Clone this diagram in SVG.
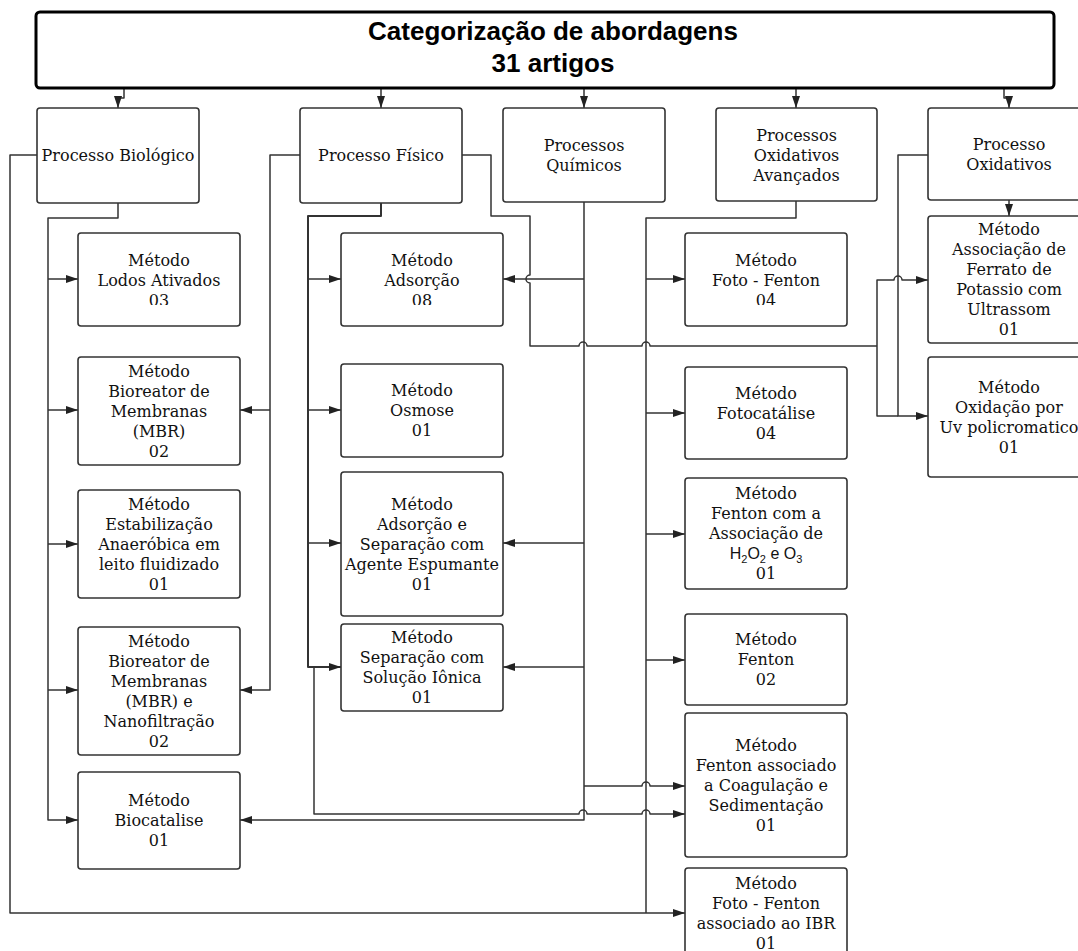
<svg xmlns="http://www.w3.org/2000/svg" width="1078" height="951" viewBox="0 0 1078 951">
<defs>
<marker id="arr" markerWidth="12" markerHeight="8" refX="12" refY="4" orient="auto" markerUnits="userSpaceOnUse"><path d="M0,0 L12,4 L0,8 z" fill="#222"/></marker>
<clipPath id="cut"><rect x="0" y="0" width="1078" height="305"/></clipPath>
</defs>
<style>
.box{fill:#fff;stroke:#333;stroke-width:1.6}
.t{font-family:"DejaVu Serif",serif;font-size:16px;fill:#111;text-anchor:middle}
.s{font-family:"Liberation Sans",Arial,sans-serif;font-size:16px;fill:#111}
.c{fill:none;stroke:#333;stroke-width:1.5;stroke-linejoin:round}
.a{marker-end:url(#arr)}
.title{font-family:"Liberation Sans",Arial,sans-serif;font-size:26px;font-weight:bold;fill:#000;text-anchor:middle}
</style>
<rect width="1078" height="951" fill="#fff"/>

<g id="connectors">
<path class="c a" d="M124,88 V98 H118 V108"/>
<path class="c a" d="M381,88 V108"/>
<path class="c a" d="M584,88 V108"/>
<path class="c a" d="M796,88 V108"/>
<path class="c a" d="M1004,88 V98 H1009 V108"/>
<!-- Biologico -->
<path class="c a" d="M118,203 V218 H48 V820 H78"/>
<path class="c a" d="M48,279 H78"/>
<path class="c a" d="M48,410 H78"/>
<path class="c a" d="M48,544 H78"/>
<path class="c a" d="M48,690 H78"/>
<path class="c a" d="M37,155 H10 V913 H685"/>
<!-- Fisico -->
<path class="c a" d="M300,155 H270 V690 H240"/>
<path class="c a" d="M270,410 H240"/>
<path class="c a" d="M381,203 V216 H308 V667 H341" style="stroke-width:2"/>
<path class="c a" d="M308,279 H341"/>
<path class="c a" d="M308,410 H341"/>
<path class="c a" d="M308,543 H341"/>
<path class="c a" d="M314,667 V814 H579 A4,4 0 0 1 587,814 H642 A4,4 0 0 1 650,814 H685"/>
<path class="c" d="M462,155 H491 V216 H530 V275 A4,4 0 0 0 530,283 V346 H579 A4,4 0 0 1 587,346 H642 A4,4 0 0 1 650,346 H877"/>
<path class="c a" d="M877,346 V280 H894 A4,4 0 0 1 902,280 H928"/>
<path class="c" d="M877,346 V416 H898"/>
<!-- Quimicos -->
<path class="c a" d="M584,202 V820 H240"/>
<path class="c a" d="M584,279 H503"/>
<path class="c a" d="M584,543 H503"/>
<path class="c a" d="M584,667 H503"/>
<path class="c a" d="M584,786 H642 A4,4 0 0 1 650,786 H685"/>
<!-- AOP -->
<path class="c" d="M796,201 V218 H646 V913"/>
<path class="c a" d="M646,279 H685"/>
<path class="c a" d="M646,413 H685"/>
<path class="c a" d="M646,534 H685"/>
<path class="c a" d="M646,660 H685"/>
<!-- Oxidativos -->
<path class="c a" d="M1009,200 V216"/>
<path class="c a" d="M928,155 H898 V416 H928"/>
</g>

<g id="title">
<rect x="36" y="12" width="1018" height="76" rx="4" fill="#fff" stroke="#000" stroke-width="3"/>
<text class="title" x="553" y="40">Categorização de abordagens</text>
<text class="title" x="553" y="72">31 artigos</text>
</g>

<g id="p-bio"><rect class="box" x="37" y="108" width="162" height="95" rx="3"/><text class="t" x="118" y="161">Processo Biológico</text></g>
<g id="p-fis"><rect class="box" x="300" y="108" width="162" height="95" rx="3"/><text class="t" x="381" y="161">Processo Físico</text></g>
<g id="p-qui"><rect class="box" x="503" y="108" width="162" height="94" rx="3"/><text class="t" x="584" y="151">Processos<tspan x="584" dy="20">Químicos</tspan></text></g>
<g id="p-aop"><rect class="box" x="716" y="108" width="161" height="93" rx="3"/><text class="t" x="796.5" y="141">Processos<tspan x="796.5" dy="20">Oxidativos</tspan><tspan x="796.5" dy="20">Avançados</tspan></text></g>
<g id="p-oxi"><rect class="box" x="928" y="108" width="162" height="92" rx="3"/><text class="t" x="1009" y="150">Processo<tspan x="1009" dy="20">Oxidativos</tspan></text></g>

<g id="m-lodos"><rect class="box" x="78" y="233" width="162" height="93" rx="3"/><text class="t" x="159" y="266">Método<tspan x="159" dy="20">Lodos Ativados</tspan></text><text class="t" x="159" y="306" clip-path="url(#cut)">03</text></g>
<g id="m-mbr"><rect class="box" x="78" y="357" width="162" height="108" rx="3"/><text class="t" x="159" y="377">Método<tspan x="159" dy="20">Bioreator de</tspan><tspan x="159" dy="20">Membranas</tspan><tspan x="159" dy="20">(MBR)</tspan><tspan x="159" dy="20">02</tspan></text></g>
<g id="m-estab"><rect class="box" x="78" y="490" width="162" height="108" rx="3"/><text class="t" x="159" y="510">Método<tspan x="159" dy="20">Estabilização</tspan><tspan x="159" dy="20">Anaeróbica em</tspan><tspan x="159" dy="20">leito fluidizado</tspan><tspan x="159" dy="20">01</tspan></text></g>
<g id="m-mbrnano"><rect class="box" x="78" y="627" width="162" height="128" rx="3"/><text class="t" x="159" y="647">Método<tspan x="159" dy="20">Bioreator de</tspan><tspan x="159" dy="20">Membranas</tspan><tspan x="159" dy="20">(MBR) e</tspan><tspan x="159" dy="20">Nanofiltração</tspan><tspan x="159" dy="20">02</tspan></text></g>
<g id="m-biocat"><rect class="box" x="78" y="772" width="162" height="97" rx="3"/><text class="t" x="159" y="806">Método<tspan x="159" dy="20">Biocatalise</tspan><tspan x="159" dy="20">01</tspan></text></g>

<g id="m-adsorcao"><rect class="box" x="341" y="233" width="162" height="93" rx="3"/><text class="t" x="422" y="266">Método<tspan x="422" dy="20">Adsorção</tspan></text><text class="t" x="422" y="306" clip-path="url(#cut)">08</text></g>
<g id="m-osmose"><rect class="box" x="341" y="364" width="162" height="93" rx="3"/><text class="t" x="422" y="396">Método<tspan x="422" dy="20">Osmose</tspan><tspan x="422" dy="20">01</tspan></text></g>
<g id="m-adssep"><rect class="box" x="341" y="472" width="162" height="144" rx="3"/><text class="t" x="422" y="510">Método<tspan x="422" dy="20">Adsorção e</tspan><tspan x="422" dy="20">Separação com</tspan><tspan x="422" dy="20">Agente Espumante</tspan><tspan x="422" dy="20">01</tspan></text></g>
<g id="m-sepion"><rect class="box" x="341" y="624" width="162" height="87" rx="3"/><text class="t" x="422" y="643">Método<tspan x="422" dy="20">Separação com</tspan><tspan x="422" dy="20">Solução Iônica</tspan><tspan x="422" dy="20">01</tspan></text></g>

<g id="m-fotofenton"><rect class="box" x="685" y="233" width="162" height="93" rx="3"/><text class="t" x="766" y="266">Método<tspan x="766" dy="20">Foto - Fenton</tspan></text><text class="t" x="766" y="306" clip-path="url(#cut)">04</text></g>
<g id="m-fotocat"><rect class="box" x="685" y="367" width="162" height="92" rx="3"/><text class="t" x="766" y="399">Método<tspan x="766" dy="20">Fotocatálise</tspan><tspan x="766" dy="20">04</tspan></text></g>
<g id="m-fentonh2o2"><rect class="box" x="685" y="478" width="162" height="111" rx="3"/><text class="t" x="766" y="499">Método<tspan x="766" dy="20">Fenton com a</tspan><tspan x="766" dy="20">Associação de</tspan></text><text class="s" x="766" y="559" text-anchor="middle">H<tspan font-size="11" dy="4">2</tspan><tspan dy="-4">O</tspan><tspan font-size="11" dy="4">2</tspan><tspan dy="-4"> e O</tspan><tspan font-size="11" dy="4">3</tspan></text><text class="t" x="766" y="579">01</text></g>
<g id="m-fenton"><rect class="box" x="685" y="614" width="162" height="91" rx="3"/><text class="t" x="766" y="645">Método<tspan x="766" dy="20">Fenton</tspan><tspan x="766" dy="20">02</tspan></text></g>
<g id="m-fentoncoag"><rect class="box" x="685" y="713" width="162" height="144" rx="3"/><text class="t" x="766" y="751">Método<tspan x="766" dy="20">Fenton associado</tspan><tspan x="766" dy="20">a Coagulação e</tspan><tspan x="766" dy="20">Sedimentação</tspan><tspan x="766" dy="20">01</tspan></text></g>
<g id="m-ibr"><rect class="box" x="685" y="868" width="162" height="92" rx="3"/><text class="t" x="766" y="889">Método<tspan x="766" dy="20">Foto - Fenton</tspan><tspan x="766" dy="20">associado ao IBR</tspan><tspan x="766" dy="20">01</tspan></text></g>

<g id="m-ferrato"><rect class="box" x="928" y="216" width="162" height="127" rx="3"/><text class="t" x="1009" y="235">Método<tspan x="1009" dy="20">Associação de</tspan><tspan x="1009" dy="20">Ferrato de</tspan><tspan x="1009" dy="20">Potassio com</tspan><tspan x="1009" dy="20">Ultrassom</tspan><tspan x="1009" dy="20">01</tspan></text></g>
<g id="m-uv"><rect class="box" x="928" y="357" width="162" height="120" rx="3"/><text class="t" x="1009" y="393">Método<tspan x="1009" dy="20">Oxidação por</tspan><tspan x="1009" dy="20">Uv policromatico</tspan><tspan x="1009" dy="20">01</tspan></text></g>
</svg>
